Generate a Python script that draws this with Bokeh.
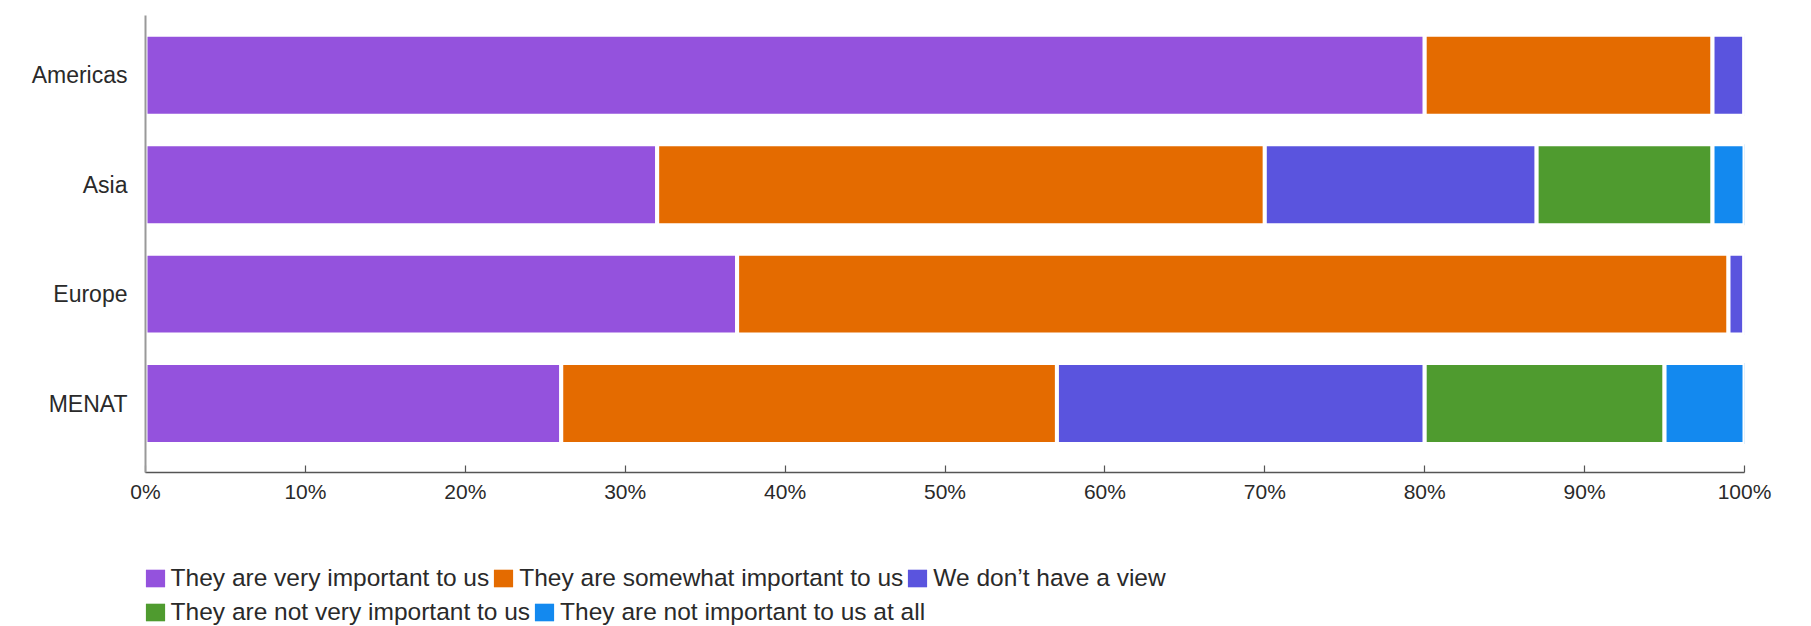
from bokeh.plotting import figure
from bokeh.models import ColumnDataSource, Range1d, FixedTicker, Legend, LegendItem
from bokeh.layouts import column
from bokeh.embed import file_html
from bokeh.resources import INLINE

regions = ["Americas", "Asia", "Europe", "MENAT"]
series_names = [
    "They are very important to us",
    "They are somewhat important to us",
    "We don\u2019t have a view",
    "They are not very important to us",
    "They are not important to us at all",
]
very_important = [80, 32, 37, 26]
somewhat_important = [18, 38, 62, 31]
no_view = [2, 17, 1, 23]
not_very_important = [0, 11, 0, 15]
not_important_at_all = [0, 2, 0, 5]
colors = ["#9452DD", "#E46B00", "#5A54DE", "#4F9B2F", "#1389EF"]
x_ticks = [0, 10, 20, 30, 40, 50, 60, 70, 80, 90, 100]
x_tick_labels = ["0%", "10%", "20%", "30%", "40%", "50%", "60%", "70%", "80%", "90%", "100%"]

keys = ["s0", "s1", "s2", "s3", "s4"]
source = ColumnDataSource(dict(
    y=list(range(len(regions))),
    s0=very_important, s1=somewhat_important, s2=no_view,
    s3=not_very_important, s4=not_important_at_all,
))

FONT = "Liberation Sans"
TEXT_COLOR = "#2a2a2a"

W = 1811
H_MAIN = 540
H_LEG = 626 - H_MAIN

p = figure(width=W, height=H_MAIN, output_backend="svg", toolbar_location=None,
           x_range=Range1d(0, 100), y_range=Range1d(3.63, -0.546),
           min_border_left=145, min_border_right=67, min_border_top=15,
           min_border_bottom=H_MAIN - 472)
p.outline_line_color = None
p.xgrid.visible = False
p.ygrid.visible = False
p.background_fill_color = "white"
p.border_fill_color = "white"

renderers = p.hbar_stack(keys, y="y", height=0.74, color=colors, source=source,
                         line_color="white", line_width=4)

# x axis
p.xaxis.ticker = FixedTicker(ticks=x_ticks)
p.xaxis.major_label_overrides = {t: l for t, l in zip(x_ticks, x_tick_labels)}
p.xaxis.major_tick_in = 7
p.xaxis.major_tick_out = 0
p.xaxis.minor_tick_line_color = None
p.xaxis.axis_line_color = "#555555"
p.xaxis.axis_line_width = 1.5
p.xaxis.major_tick_line_color = "#555555"
p.xaxis.major_tick_line_width = 1.2
p.xaxis.major_label_text_font = FONT
p.xaxis.major_label_text_font_size = "21px"
p.xaxis.major_label_text_color = TEXT_COLOR
p.xaxis.major_label_standoff = 7

# y axis
p.yaxis.ticker = FixedTicker(ticks=list(range(len(regions))))
p.yaxis.major_label_overrides = {i: r for i, r in enumerate(regions)}
p.yaxis.major_tick_line_color = None
p.yaxis.minor_tick_line_color = None
p.yaxis.axis_line_color = "#999999"
p.yaxis.axis_line_width = 2
p.yaxis.major_label_text_font = FONT
p.yaxis.major_label_text_font_size = "23px"
p.yaxis.major_label_text_color = TEXT_COLOR
p.yaxis.major_label_standoff = 12

# legend strip
q = figure(width=W, height=H_LEG, output_backend="svg", toolbar_location=None,
           x_range=Range1d(0, 1), y_range=Range1d(0, 1),
           x_axis_type=None, y_axis_type=None,
           min_border_left=0, min_border_right=0, min_border_top=0, min_border_bottom=0)
q.outline_line_color = None
q.grid.visible = False
q.background_fill_color = "white"
q.border_fill_color = "white"

swatches = q.hbar_stack(keys, y="y", height=0.74, color=colors, source=source,
                        line_color=None, visible=False)


def make_legend(idx, loc):
    items = [LegendItem(label=series_names[i], renderers=[swatches[i]]) for i in idx]
    return Legend(items=items, orientation="horizontal", location=loc,
                  padding=0, margin=0, spacing=2, label_standoff=4,
                  glyph_width=24, glyph_height=22,
                  label_text_font=FONT, label_text_font_size="24.5px",
                  label_text_color=TEXT_COLOR,
                  border_line_color=None, background_fill_alpha=0)


q.add_layout(make_legend([0, 1, 2], (-2.4, 34)))
q.add_layout(make_legend([3, 4], (-2.4, 0)))

open("out.html", "w").write(file_html(column(p, q), INLINE))
